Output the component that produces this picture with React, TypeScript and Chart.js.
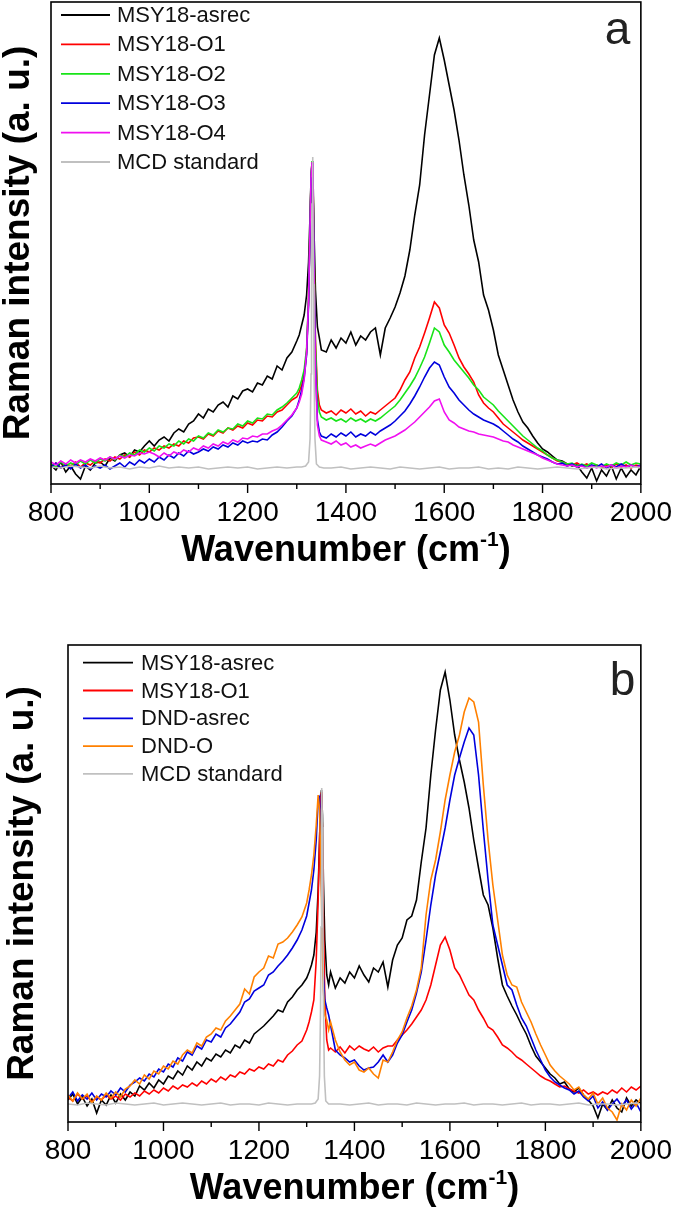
import React, { useEffect, useRef } from 'react';
import { Chart, registerables } from 'chart.js';

Chart.register(...registerables);

// ---------- Data (wavenumber in cm-1, intensity in a.u.) ----------
const WN = [
  800, 810, 820, 830, 840, 850, 860, 870, 880, 890,
  900, 910, 920, 930, 940, 950, 960, 970, 980, 990,
  1000, 1010, 1020, 1030, 1040, 1050, 1060, 1070, 1080, 1090,
  1100, 1110, 1120, 1130, 1140, 1150, 1160, 1170, 1180, 1190,
  1200, 1210, 1220, 1230, 1240, 1250, 1260, 1270, 1280, 1290,
  1300, 1305, 1310, 1315, 1320, 1324, 1327, 1329, 1331, 1333,
  1335, 1338, 1342, 1346, 1350, 1360, 1370, 1380, 1390,
  1400, 1410, 1420, 1430, 1440, 1450, 1460, 1470, 1480, 1490,
  1500, 1510, 1520, 1530, 1540, 1550, 1560, 1570, 1580, 1590,
  1600, 1610, 1620, 1630, 1640, 1650, 1660, 1670, 1680, 1690,
  1700, 1710, 1720, 1730, 1740, 1750, 1760, 1770, 1780, 1790,
  1800, 1810, 1820, 1830, 1840, 1850, 1860, 1870, 1880, 1890,
  1900, 1910, 1920, 1930, 1940, 1950, 1960, 1970, 1980, 1990,
  2000,
];

// Panel a
const A_ASREC = [
  19, 14, 22, 12, 18, 10, 5, 18, 14, 21,
  22, 18, 26, 23, 29, 31, 27, 34, 32, 38,
  43, 38, 44, 47, 43, 51, 55, 52, 60, 63,
  70, 66, 75, 72, 79, 82, 77, 88, 85, 93,
  95, 92, 101, 99, 108, 105, 118, 114, 126, 132,
  143, 149, 159, 169, 189, 222, 269, 306, 322, 309,
  254, 194, 157, 146, 134, 132, 144, 136, 146,
  141, 152, 139, 148, 144, 152, 156, 129, 156, 166,
  177, 191, 208, 234, 269, 299, 349, 389, 429, 446,
  424, 399, 374, 344, 309, 279, 244, 222, 189, 174,
  154, 129, 114, 99, 84, 72, 62, 56, 48, 41,
  35, 32, 28, 24, 23, 20, 18, 19, 12, 6,
  16, 3, 14, 8, 18, 5, 16, 7, 14, 9,
  18,
];
const A_O1 = [
  18, 21, 16, 20, 18, 22, 17, 21, 19, 23,
  21, 25, 23, 27, 25, 29, 27, 32, 29, 34,
  32, 36, 34, 38, 36, 40, 38, 43, 41, 46,
  47, 45, 50, 48, 53, 51, 56, 54, 58, 56,
  61, 59, 64, 63, 68, 67, 72, 74, 79, 84,
  87, 92, 99, 109, 132, 184, 254, 304, 322, 306,
  234, 144, 94, 79, 74, 71, 73, 69, 74,
  71, 75, 70, 73, 68, 72, 70, 74, 78, 82,
  86, 94, 104, 112, 126, 137, 151, 166, 182, 176,
  159, 151, 139, 126, 117, 110, 102, 89, 81, 76,
  72, 66, 60, 56, 52, 48, 44, 41, 38, 35,
  32, 29, 26, 23, 22, 20, 19, 21, 18, 20,
  17, 19, 16, 19, 17, 20, 17, 19, 16, 19,
  18,
];
const A_O2 = [
  20, 17, 22, 18, 21, 19, 23, 20, 24, 21,
  25, 23, 27, 24, 29, 27, 31, 29, 34, 32,
  36, 33, 38, 36, 40, 38, 43, 40, 45, 43,
  48, 46, 51, 49, 54, 52, 56, 55, 60, 58,
  63, 61, 66, 65, 70, 69, 74, 77, 81, 86,
  91, 96, 104, 114, 136, 186, 256, 306, 323, 306,
  229, 139, 86, 72, 67, 64, 66, 63, 65,
  62, 66, 63, 65, 62, 65, 63, 66, 70, 74,
  78, 84, 91, 98, 106, 116, 127, 141, 156, 152,
  139, 132, 124, 118, 112, 106, 99, 94, 87, 83,
  79, 73, 68, 63, 58, 53, 48, 44, 40, 36,
  33, 29, 26, 24, 22, 20, 21, 18, 20, 18,
  21, 19, 17, 20, 18, 21, 19, 22, 19, 21,
  20,
];
const A_O3 = [
  17, 21, 16, 19, 15, 20, 16, 19, 15, 18,
  16, 19, 15, 18, 21, 17, 22, 19, 24, 21,
  25, 22, 27, 24, 29, 26, 31, 28, 33, 30,
  32, 35, 33, 37, 35, 39, 37, 41, 39, 43,
  41, 43, 42, 45, 44, 49, 52, 57, 63, 68,
  76, 84, 94, 106, 129, 179, 252, 302, 321, 302,
  219, 119, 64, 52, 48, 46, 50, 47, 51,
  48, 52, 47, 50, 48, 52, 49, 53, 56, 59,
  63, 68, 73, 80, 88, 97, 107, 116, 122, 119,
  107, 97, 91, 84, 79, 74, 70, 67, 64, 62,
  60, 57, 53, 49, 45, 42, 38, 35, 32, 29,
  27, 25, 22, 20, 21, 18, 20, 17, 19, 16,
  19, 17, 20, 16, 19, 17, 20, 17, 19, 17,
  19,
];
const A_O4 = [
  22, 19, 23, 20, 24, 21, 24, 22, 25, 23,
  26, 24, 27, 25, 28, 26, 29, 28, 31, 30,
  32, 30, 27, 31, 28, 32, 30, 34, 32, 36,
  34, 38, 36, 40, 38, 42, 40, 44, 42, 46,
  45, 48, 47, 50, 50, 53, 55, 59, 64, 69,
  76, 82, 90, 104, 132, 184, 256, 306, 322, 302,
  216, 112, 59, 48, 44, 42, 40, 43, 39,
  41, 37, 39, 36, 38, 40, 38, 41, 44, 46,
  48, 51, 54, 58, 62, 67, 72, 77, 83, 85,
  72, 64, 61, 57, 55, 53, 52, 50, 49, 48,
  47, 45, 43, 42, 39, 37, 35, 33, 31, 29,
  26, 24, 22, 20, 19, 18, 19, 17, 18, 16,
  18, 16, 18, 17, 19, 16, 18, 17, 19, 17,
  18,
];

// MCD standard has its own, finer sampling around the diamond line
const MCD_WN = [
  800, 820, 840, 860, 880, 900, 920, 940, 960, 980,
  1000, 1020, 1040, 1060, 1080, 1100, 1120, 1140, 1160, 1180,
  1200, 1220, 1240, 1260, 1280, 1300,
  1310, 1318, 1324, 1327, 1329, 1330, 1331, 1332, 1333, 1334, 1335, 1337, 1340, 1346, 1355,
  1370, 1390, 1410, 1430, 1450, 1470, 1490, 1510, 1530, 1550,
  1570, 1590, 1610, 1630, 1650, 1670, 1690, 1710, 1730, 1750,
  1770, 1790, 1810, 1830, 1850, 1870, 1890, 1910, 1930, 1950,
  1970, 1990,
  2000,
];
const A_MCD = [
  17, 16, 18, 17, 16, 18, 16, 17, 15, 17,
  16, 18, 16, 17, 16, 17, 15, 16, 17, 16,
  17, 15, 16, 17, 16, 17,
  17, 18, 22, 45, 110, 190, 280, 327, 290, 200, 120, 45, 20, 17, 16,
  16, 17, 15, 16, 17, 16, 15, 17, 16, 15,
  16, 17, 15, 16, 16, 17, 15, 16, 15, 17,
  16, 15, 16, 17, 16, 15, 16, 17, 15, 16,
  16, 17,
  16,
];

// Panel b
const B_ASREC = [
  22, 28, 18, 25, 16, 23, 9, 22, 17, 27,
  19, 28, 22, 30, 26, 36, 32, 39, 34, 42,
  38, 46, 43, 51, 47, 56, 52, 60, 56, 64,
  61, 68, 65, 72, 69, 77, 74, 82, 79, 88,
  92, 96, 101, 106, 112, 110, 120, 125, 132, 137,
  144, 150, 157, 167, 190, 232, 282, 322, 332, 307,
  242, 182, 147, 137, 150, 134, 144, 139, 150,
  144, 156, 147, 140, 154, 150, 160, 135, 162, 177,
  184, 202, 206, 222, 260, 294, 347, 392, 432, 450,
  422, 387, 362, 340, 314, 282, 254, 227, 217, 194,
  164, 137, 126, 116, 107, 97, 88, 76, 66, 60,
  54, 48, 44, 38, 40, 33, 30, 34, 27, 22,
  16, 4, 18, 12, 22, 14, 10, 24, 16, 22,
  18,
];
const B_O1 = [
  25, 21, 28, 23, 26, 20, 25, 22, 27, 23,
  26, 22, 28, 25, 29, 26, 31, 28, 32, 29,
  34, 31, 36, 33, 37, 35, 39, 36, 41, 38,
  43, 40, 45, 42, 47, 45, 50, 48, 53, 51,
  55, 53, 58, 56, 62, 60, 67, 71, 77, 81,
  92, 100, 110, 122, 162, 222, 282, 322, 330, 292,
  202, 122, 82, 72, 74, 70, 75, 69, 76,
  72, 76, 73, 71, 75, 70, 74, 76, 76, 82,
  87, 92, 98, 105, 112, 122, 137, 157, 177, 185,
  172, 154, 147, 137, 127, 122, 112, 104, 95, 92,
  85, 77, 74, 70, 65, 62, 58, 54, 50, 46,
  43, 41, 38, 35, 36, 33, 31, 29, 32, 28,
  30, 27, 30, 28, 32, 29, 34, 30, 35, 32,
  36,
];
const B_DND = [
  24, 30, 21, 27, 23, 29, 22, 28, 25, 31,
  27, 34, 30, 37, 40, 44, 41, 48, 45, 53,
  50, 58, 55, 64, 61, 70, 67, 76, 73, 82,
  80, 88, 85, 94, 98, 104, 110, 120, 123, 131,
  134, 137, 147, 150, 156, 161, 167, 174, 182, 192,
  206, 219, 232, 252, 282, 322, 325, 292, 242, 182,
  147, 122, 114, 107, 97, 72, 67, 64, 60,
  62, 56, 52, 54, 55, 60, 67, 60, 67, 79,
  87, 100, 112, 129, 150, 182, 217, 247, 270, 294,
  322, 347, 364, 380, 394, 387, 347, 292, 242, 197,
  177, 157, 137, 132, 117, 104, 96, 84, 72, 62,
  52, 45, 40, 37, 34, 32, 28, 31, 25, 21,
  26, 14, 20, 12, 18, 23, 16, 22, 13, 19,
  10,
];
const B_DNDO = [
  27, 21, 29, 23, 28, 19, 26, 22, 29, 24,
  30, 25, 33, 36, 42, 38, 47, 43, 51, 48,
  56, 53, 61, 58, 67, 72, 69, 79, 76, 85,
  88, 94, 92, 101, 106, 112, 118, 133, 128, 145,
  150, 154, 166, 164, 178, 180, 184, 190, 197, 205,
  219, 232, 247, 267, 297, 327, 312, 272, 222, 167,
  132, 107, 102, 92, 100, 82, 70, 62, 57,
  60, 52, 50, 54, 48, 44, 62, 60, 70, 82,
  90, 104, 116, 132, 154, 207, 242, 262, 290, 322,
  347, 370, 387, 410, 424, 420, 400, 337, 282, 237,
  202, 167, 147, 137, 135, 120, 110, 100, 88, 77,
  67, 57, 51, 46, 42, 38, 32, 35, 27, 23,
  29, 18, 24, 14, 10, 2, 18, 12, 22, 16,
  24,
];
const B_MCD = [
  18, 17, 19, 18, 17, 19, 18, 17, 18, 19,
  17, 18, 19, 18, 17, 18, 19, 17, 18, 18,
  17, 19, 18, 17, 18, 18,
  18, 19, 23, 46, 112, 195, 285, 334, 295, 205, 122, 46, 21, 18, 18,
  18, 17, 18, 19, 17, 18, 18, 17, 19, 18,
  17, 18, 18, 19, 17, 18, 18, 17, 18, 19,
  17, 18, 18, 17, 18, 19, 17, 18, 18, 17,
  18, 19,
  18,
];

const X_TICK_LABELS = [800, 1000, 1200, 1400, 1600, 1800, 2000];
const X_MINOR_TICKS = [900, 1100, 1300, 1500, 1700, 1900];

const LABELS_A = ['MSY18-asrec', 'MSY18-O1', 'MSY18-O2', 'MSY18-O3', 'MSY18-O4', 'MCD standard'];
const LABELS_B = ['MSY18-asrec', 'MSY18-O1', 'DND-asrec', 'DND-O', 'MCD standard'];

const C_BLACK = '#000000';
const C_RED = '#ff0000';
const C_GREEN = '#18e418';
const C_BLUE = '#0000dd';
const C_MAGENTA = '#f010f0';
const C_GRAY = '#c0c0c0';
const C_ORANGE = '#ff8000';

const FAM = "'Liberation Sans', Arial, Helvetica, sans-serif";
const TICK_FAM = "'Liberation Sans', Arial, sans-serif";

type Series = { label: string; color: string; xs: number[]; ys: number[] };

const SERIES_A: Series[] = [
  { label: LABELS_A[0], color: C_BLACK, xs: WN, ys: A_ASREC },
  { label: LABELS_A[1], color: C_RED, xs: WN, ys: A_O1 },
  { label: LABELS_A[2], color: C_GREEN, xs: WN, ys: A_O2 },
  { label: LABELS_A[3], color: C_BLUE, xs: WN, ys: A_O3 },
  { label: LABELS_A[4], color: C_MAGENTA, xs: WN, ys: A_O4 },
  { label: LABELS_A[5], color: C_GRAY, xs: MCD_WN, ys: A_MCD },
];
const SERIES_B: Series[] = [
  { label: LABELS_B[0], color: C_BLACK, xs: WN, ys: B_ASREC },
  { label: LABELS_B[1], color: C_RED, xs: WN, ys: B_O1 },
  { label: LABELS_B[2], color: C_BLUE, xs: WN, ys: B_DND },
  { label: LABELS_B[3], color: C_ORANGE, xs: WN, ys: B_DNDO },
  { label: LABELS_B[4], color: C_GRAY, xs: MCD_WN, ys: B_MCD },
];

type PanelCfg = {
  series: Series[];
  height: number;
  padTop: number;
  padRight: number;
  xH: number;
  yW: number;
  yMax: number;
  yTitlePad: number;
  legLine0: number;
  legLine1: number;
  legText: number;
  legRow0: number;
  legDy: number;
  letter: string;
  letterDx: number;
  letterDy: number;
  xTitleDy: number;
};

const PANEL_A: PanelCfg = {
  series: SERIES_A,
  height: 575,
  padTop: 2,
  padRight: 35,
  xH: 91,
  yW: 51,
  yMax: 482,
  yTitlePad: 0,
  legLine0: 10,
  legLine1: 59,
  legText: 66,
  legRow0: 13,
  legDy: 29.4,
  letter: 'a',
  letterDx: -10.5,
  letterDy: 41.5,
  xTitleDy: 77,
};
const PANEL_B: PanelCfg = {
  series: SERIES_B,
  height: 640,
  padTop: 70,
  padRight: 30,
  xH: 93,
  yW: 68,
  yMax: 477,
  yTitlePad: 4,
  legLine0: 15,
  legLine1: 65,
  legText: 73,
  legRow0: 17.7,
  legDy: 27.8,
  letter: 'b',
  letterDx: -5.5,
  letterDy: 50,
  xTitleDy: 77,
};

function makeDecor(cfg: PanelCfg) {
  return {
    id: 'decor' + cfg.letter,
    afterDraw(chart: any) {
      const { ctx, chartArea: ca, scales } = chart;
      const xs = scales.x;
      ctx.save();
      // frame
      ctx.strokeStyle = '#000';
      ctx.lineWidth = 1.6;
      ctx.strokeRect(ca.left, ca.top, ca.right - ca.left, ca.bottom - ca.top);
      // ticks (outward)
      ctx.lineWidth = 1.4;
      ctx.beginPath();
      for (const v of X_TICK_LABELS) {
        const px = xs.getPixelForValue(v);
        ctx.moveTo(px, ca.bottom);
        ctx.lineTo(px, ca.bottom + 9);
      }
      for (const v of X_MINOR_TICKS) {
        const px = xs.getPixelForValue(v);
        ctx.moveTo(px, ca.bottom);
        ctx.lineTo(px, ca.bottom + 5);
      }
      ctx.stroke();
      // x title with superscript
      const t1 = 'Wavenumber (cm';
      const sup = '-1';
      const t3 = ')';
      ctx.font = `bold 36px ${FAM}`;
      const w1 = ctx.measureText(t1).width;
      const w3 = ctx.measureText(t3).width;
      ctx.font = `bold 21px ${FAM}`;
      const w2 = ctx.measureText(sup).width;
      const total = w1 + w2 + w3;
      const x0 = (ca.left + ca.right) / 2 - total / 2;
      const yb = ca.bottom + cfg.xTitleDy;
      ctx.fillStyle = '#000';
      ctx.textAlign = 'left';
      ctx.textBaseline = 'alphabetic';
      ctx.font = `bold 36px ${FAM}`;
      ctx.fillText(t1, x0, yb);
      ctx.font = `bold 21px ${FAM}`;
      ctx.fillText(sup, x0 + w1, yb - 15);
      ctx.font = `bold 36px ${FAM}`;
      ctx.fillText(t3, x0 + w1 + w2, yb);
      // legend
      chart.data.datasets.forEach((ds: any, i: number) => {
        const y = ca.top + cfg.legRow0 + i * cfg.legDy;
        ctx.strokeStyle = ds.borderColor;
        ctx.lineWidth = 1.8;
        ctx.beginPath();
        ctx.moveTo(ca.left + cfg.legLine0, y);
        ctx.lineTo(ca.left + cfg.legLine1, y);
        ctx.stroke();
        ctx.fillStyle = '#111';
        ctx.font = `22px ${FAM}`;
        ctx.textBaseline = 'middle';
        ctx.textAlign = 'left';
        ctx.fillText(ds.label, ca.left + cfg.legText, y + 1);
      });
      // panel letter
      ctx.fillStyle = '#222';
      ctx.font = `46px ${FAM}`;
      ctx.textAlign = 'right';
      ctx.textBaseline = 'alphabetic';
      ctx.fillText(cfg.letter, ca.right + cfg.letterDx, ca.top + cfg.letterDy);
      ctx.restore();
    },
  };
}

function Panel({ cfg, top }: { cfg: PanelCfg; top: number }) {
  const ref = useRef<HTMLCanvasElement>(null);
  useEffect(() => {
    if (!ref.current) return;
    const n = cfg.series.length;
    const chart = new Chart(ref.current, {
      type: 'line',
      data: {
        datasets: cfg.series.map((s, i) => ({
          label: s.label,
          data: s.xs.map((x, k) => ({ x, y: s.ys[k] })),
          borderColor: s.color,
          backgroundColor: s.color,
          borderWidth: 1.6,
          pointRadius: 0,
          fill: false,
          tension: 0,
          order: n - i,
        })),
      },
      options: {
        responsive: false,
        animation: false,
        devicePixelRatio: 1,
        events: [],
        layout: { padding: { left: 0, top: cfg.padTop, right: cfg.padRight, bottom: 0 } },
        plugins: {
          legend: { display: false },
          tooltip: { enabled: false },
          title: { display: false },
        },
        scales: {
          x: {
            type: 'linear',
            position: 'bottom',
            min: 800,
            max: 2000,
            grid: { display: false, drawTicks: false },
            border: { display: false },
            ticks: {
              stepSize: 200,
              autoSkip: false,
              maxRotation: 0,
              padding: 15,
              color: '#000',
              font: { family: TICK_FAM, size: 28, lineHeight: 1 },
              callback: (v: any) => String(v),
            },
            afterFit: (s: any) => {
              s.height = cfg.xH;
            },
          },
          y: {
            type: 'linear',
            min: 0,
            max: cfg.yMax,
            grid: { display: false, drawTicks: false },
            border: { display: false },
            ticks: { display: false },
            title: {
              display: true,
              text: 'Raman intensity (a. u.)',
              color: '#000',
              font: { family: FAM, size: 37, weight: 'bold', lineHeight: 1 },
              padding: { top: cfg.yTitlePad, bottom: 0 },
            },
            afterFit: (s: any) => {
              s.width = cfg.yW;
            },
          },
        },
      } as any,
      plugins: [makeDecor(cfg)],
    });
    return () => chart.destroy();
  }, [cfg]);
  return (
    <canvas
      ref={ref}
      width={687}
      height={cfg.height}
      style={{ position: 'absolute', left: 0, top, width: 687, height: cfg.height, display: 'block' }}
    />
  );
}

export default function App() {
  return (
    <div style={{ position: 'absolute', left: 0, top: 0, width: 687, height: 1215, background: '#fff' }}>
      <Panel cfg={PANEL_A} top={0} />
      <Panel cfg={PANEL_B} top={575} />
    </div>
  );
}
